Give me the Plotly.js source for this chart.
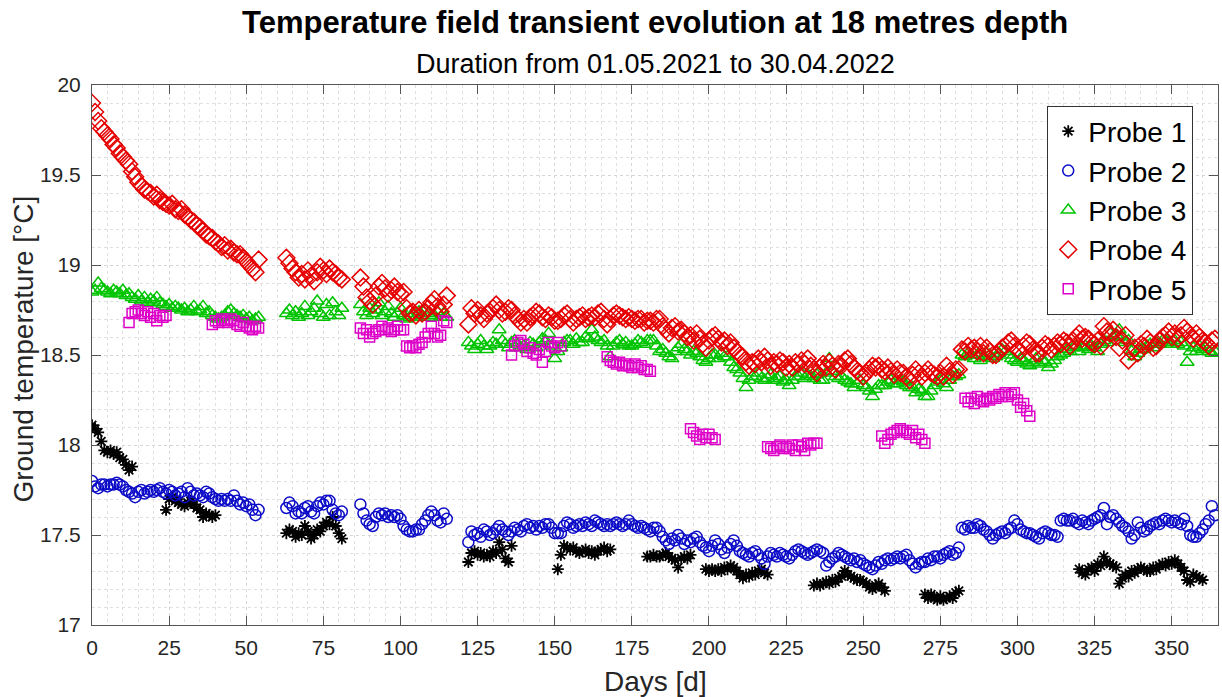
<!DOCTYPE html>
<html>
<head>
<meta charset="utf-8">
<script src="https://cdn.plot.ly/plotly-3.0.1.min.js"></script>
<style>html,body{margin:0;padding:0;background:#fff;}#chart{width:1222px;height:697px;}</style>
</head>
<body>
<div id="chart"></div>
<script>
// ---- Data (days since 01.05.2021; each segment = start day + daily values) ----
const probeNames = ["Probe 1", "Probe 2", "Probe 3", "Probe 4", "Probe 5"];

const probe1Starts = [0, 24, 63, 122, 151, 180, 199, 234, 270, 320];
const probe1Values = [
  [18.11,18.09,18.07,18.02,17.97,17.96,17.97,17.95,17.96,17.93,17.92,17.89,17.86,17.88],
  [17.64,17.70,17.71,17.69,17.68,17.67,17.66,17.68,17.69,17.67,17.65,17.64,17.60,17.62,17.61,17.60,17.61],
  [17.51,17.53,17.52,17.49,17.51,17.50,17.55,17.52,17.48,17.50,17.53,17.52,17.55,17.57,17.56,17.60,17.55,17.51,17.48],
  [17.35,17.40,17.41,17.39,17.40,17.38,17.39,17.38,17.41,17.40,17.46,17.42,17.37,17.35,17.44],
  [17.31,17.39,17.44,17.43,17.42,17.43,17.41,17.40,17.41,17.42,17.40,17.41,17.39,17.41,17.42,17.43,17.41,17.42],
  [17.38,17.38,17.39,17.38,17.38,17.39,17.40,17.38,17.37,17.36,17.32,17.37,17.38,17.37,17.39],
  [17.31,17.30,17.31,17.30,17.31,17.30,17.32,17.31,17.33,17.32,17.30,17.28,17.26,17.28,17.27,17.29,17.28,17.30,17.31,17.29,17.28],
  [17.22,17.23,17.22,17.23,17.24,17.23,17.25,17.24,17.26,17.27,17.30,17.28,17.27,17.26,17.25,17.25,17.24,17.23,17.21,17.20,17.22,17.23,17.21,17.19],
  [17.17,17.15,17.17,17.15,17.14,17.16,17.14,17.15,17.16,17.15,17.18,17.19],
  [17.31,17.29,17.28,17.31,17.32,17.30,17.34,17.33,17.38,17.35,17.34,17.33,17.32,17.23,17.26,17.28,17.27,17.30,17.29,17.31,17.32,17.31,17.30,17.30,17.32,17.31,17.33,17.34,17.33,17.35,17.34,17.36,17.34,17.32,17.30,17.25,17.24,17.28,17.27,17.26,17.25]
];

const probe2Starts = [0, 63, 87, 122];
const probe2Values = [
  [17.80,17.77,17.76,17.78,17.78,17.77,17.78,17.78,17.79,17.78,17.77,17.75,17.74,17.73,17.71,17.74,17.75,17.73,17.74,17.75,17.74,17.75,17.76,17.74,17.73,17.75,17.74,17.72,17.73,17.74,17.71,17.76,17.74,17.72,17.73,17.72,17.71,17.74,17.73,17.71,17.70,17.69,17.70,17.69,17.70,17.69,17.72,17.69,17.67,17.68,17.66,17.67,17.64,17.61,17.64],
  [17.65,17.68,17.66,17.62,17.63,17.62,17.65,17.66,17.63,17.62,17.66,17.68,17.67,17.69,17.69,17.64,17.62,17.61,17.63],
  [17.67,17.62,17.58,17.56,17.55,17.60,17.62,17.61,17.62,17.60,17.61,17.60,17.61,17.59,17.55,17.53,17.52,17.52,17.53,17.53,17.56,17.58,17.61,17.63,17.61,17.58,17.57,17.62,17.59],
  [17.46,17.52,17.50,17.51,17.49,17.53,17.52,17.50,17.51,17.53,17.55,17.53,17.52,17.50,17.52,17.54,17.53,17.52,17.55,17.56,
   17.54,17.55,17.53,17.55,17.54,17.56,17.56,17.54,17.51,17.51,17.51,17.55,17.57,17.56,17.54,17.55,17.56,17.55,17.57,17.56,
   17.55,17.58,17.57,17.56,17.55,17.56,17.55,17.56,17.57,17.56,17.55,17.56,17.58,17.56,17.55,17.54,17.55,17.54,17.53,17.52,
   17.54,17.54,17.52,17.49,17.47,17.45,17.48,17.47,17.50,17.48,17.45,17.47,17.46,17.48,17.49,17.46,17.44,17.43,17.41,17.44,
   17.47,17.45,17.42,17.40,17.43,17.45,17.47,17.44,17.41,17.40,17.39,17.38,17.40,17.41,17.39,17.37,17.34,17.38,17.40,17.39,
   17.38,17.40,17.39,17.38,17.37,17.39,17.41,17.42,17.41,17.40,17.39,17.40,17.41,17.42,17.41,17.40,17.33,17.35,17.37,17.38,
   17.40,17.39,17.38,17.37,17.36,17.37,17.35,17.36,17.34,17.33,17.32,17.31,17.33,17.35,17.34,17.36,17.37,17.36,17.37,17.38,
   17.37,17.38,17.39,17.36,17.34,17.32,17.34,17.35,17.35,17.37,17.36,17.38,17.38,17.37,17.39,17.40,17.41,17.39,17.40,17.43,
   17.54,17.53,17.55,17.54,17.54,17.56,17.55,17.53,17.52,17.50,17.48,17.50,17.51,17.52,17.51,17.53,17.54,17.58,17.56,17.53,
   17.52,17.51,17.51,17.50,17.49,17.48,17.51,17.52,17.51,17.50,17.50,17.49,17.58,17.59,17.58,17.58,17.59,17.57,17.56,17.58,
   17.57,17.56,17.58,17.59,17.60,17.61,17.65,17.56,17.60,17.61,17.59,17.57,17.55,17.54,17.52,17.48,17.50,17.57,17.54,17.52,
   17.53,17.55,17.56,17.57,17.56,17.58,17.59,17.58,17.57,17.58,17.57,17.56,17.59,17.55,17.50,17.49,17.49,17.51,17.53,17.56,
   17.58,17.66,17.61]
];

const probe3Starts = [0, 63, 87, 122];
const probe3Values = [
  [18.85,18.86,18.90,18.87,18.86,18.85,18.84,18.86,18.85,18.84,18.86,18.83,18.84,18.82,18.81,18.83,18.80,18.82,18.79,18.81,18.80,18.82,18.79,18.78,18.77,18.78,18.76,18.77,18.76,18.75,18.76,18.74,18.75,18.77,18.74,18.75,18.77,18.73,18.74,18.72,18.71,18.70,18.71,18.72,18.74,18.75,18.73,18.72,18.71,18.72,18.70,18.71,18.69,18.70,18.71],
  [18.73,18.75,18.72,18.74,18.71,18.73,18.77,18.72,18.74,18.76,18.80,18.73,18.71,18.78,18.72,18.79,18.74,18.72,18.76],
  [18.78,18.74,18.72,18.76,18.73,18.75,18.79,18.72,18.74,18.77,18.73,18.71,18.73,18.76,18.72,18.70,18.71,18.73,18.71,18.74,18.72,18.75,18.73,18.71,18.72,18.74,18.71,18.73,18.71],
  [18.57,18.55,18.53,18.56,18.58,18.55,18.53,18.55,18.57,18.56,18.64,18.58,18.56,18.54,18.57,18.58,18.56,18.54,18.55,18.53,
   18.57,18.56,18.54,18.57,18.59,18.58,18.62,18.55,18.48,18.52,18.54,18.57,18.58,18.58,18.56,18.59,18.57,18.57,18.60,18.59,
   18.64,18.60,18.58,18.57,18.58,18.55,18.49,18.55,18.57,18.58,18.56,18.57,18.55,18.55,18.56,18.58,18.57,18.56,18.58,18.58,
   18.58,18.55,18.52,18.53,18.51,18.49,18.48,18.52,18.54,18.56,18.53,18.52,18.50,18.52,18.51,18.49,18.47,18.46,18.48,18.50,
   18.50,18.48,18.51,18.49,18.49,18.46,18.43,18.42,18.40,18.37,18.32,18.36,18.38,18.38,18.40,18.37,18.36,18.37,18.39,18.36,
   18.37,18.38,18.35,18.36,18.33,18.36,18.38,18.38,18.40,18.37,18.39,18.38,18.37,18.39,18.36,18.36,18.40,18.48,18.41,18.38,
   18.37,18.38,18.36,18.35,18.34,18.32,18.34,18.36,18.33,18.32,18.30,18.27,18.31,18.33,18.33,18.33,18.35,18.36,18.34,18.34,
   18.36,18.35,18.33,18.32,18.32,18.29,18.31,18.30,18.27,18.27,18.30,18.33,18.35,18.36,18.34,18.32,18.36,18.38,18.38,18.39,
   18.50,18.49,18.51,18.50,18.48,18.50,18.47,18.49,18.51,18.50,18.48,18.49,18.51,18.53,18.52,18.50,18.48,18.47,18.46,18.48,
   18.47,18.45,18.44,18.46,18.48,18.45,18.47,18.46,18.43,18.45,18.47,18.49,18.50,18.51,18.53,18.52,18.54,18.55,18.52,18.54,
   18.55,18.53,18.55,18.54,18.52,18.56,18.58,18.57,18.62,18.60,18.61,18.64,18.60,18.57,18.58,18.52,18.49,18.51,18.53,18.53,
   18.55,18.56,18.54,18.57,18.56,18.58,18.58,18.57,18.56,18.58,18.56,18.57,18.55,18.46,18.52,18.54,18.52,18.55,18.53,18.54,
   18.52,18.51,18.52]
];

const probe4Starts = [0, 63, 87, 122];
const probe4Values = [
  [19.90,19.85,19.80,19.76,19.74,19.72,19.70,19.67,19.65,19.62,19.60,19.58,19.56,19.52,19.49,19.46,19.44,19.42,19.41,19.40,19.38,19.39,19.36,19.35,19.34,19.33,19.34,19.31,19.30,19.31,19.28,19.27,19.25,19.24,19.22,19.21,19.19,19.17,19.16,19.15,19.13,19.12,19.10,19.11,19.08,19.09,19.07,19.06,19.06,19.04,19.02,19.00,18.98,18.96,19.03],
  [19.04,19.01,18.98,18.96,18.93,18.95,18.92,18.97,18.94,18.91,18.96,18.99,18.97,18.95,18.98,18.96,18.95,18.93,18.92],
  [18.93,18.88,18.82,18.80,18.78,18.83,18.88,18.90,18.87,18.84,18.86,18.88,18.85,18.84,18.85,18.76,18.73,18.74,18.72,18.75,18.73,18.74,18.76,18.79,18.81,18.77,18.74,18.78,18.83],
  [18.67,18.76,18.73,18.75,18.72,18.70,18.73,18.74,18.76,18.78,18.75,18.73,18.74,18.76,18.75,18.72,18.70,18.68,18.70,18.68,
   18.71,18.72,18.74,18.73,18.71,18.70,18.72,18.71,18.69,18.69,18.70,18.72,18.73,18.70,18.68,18.70,18.71,18.72,18.70,18.71,
   18.72,18.71,18.73,18.74,18.70,18.67,18.70,18.72,18.73,18.72,18.71,18.70,18.71,18.70,18.69,18.70,18.70,18.68,18.69,18.69,
   18.68,18.70,18.70,18.66,18.64,18.62,18.65,18.66,18.63,18.64,18.62,18.60,18.61,18.58,18.62,18.59,18.56,18.54,18.58,18.60,
   18.61,18.59,18.57,18.58,18.55,18.57,18.54,18.52,18.50,18.49,18.46,18.44,18.46,18.45,18.48,18.46,18.49,18.47,18.44,18.46,
   18.45,18.47,18.46,18.43,18.45,18.43,18.46,18.45,18.47,18.45,18.48,18.44,18.42,18.40,18.43,18.45,18.43,18.46,18.44,18.42,
   18.45,18.44,18.47,18.48,18.45,18.43,18.41,18.40,18.38,18.40,18.42,18.44,18.43,18.44,18.42,18.41,18.43,18.41,18.39,18.42,
   18.40,18.40,18.38,18.36,18.39,18.42,18.40,18.38,18.40,18.42,18.40,18.39,18.38,18.40,18.38,18.44,18.41,18.39,18.42,18.42,
   18.53,18.52,18.55,18.53,18.54,18.52,18.55,18.51,18.54,18.52,18.50,18.50,18.52,18.54,18.55,18.57,18.58,18.55,18.53,18.52,
   18.55,18.57,18.56,18.53,18.51,18.51,18.54,18.56,18.55,18.53,18.55,18.57,18.56,18.58,18.57,18.55,18.58,18.60,18.62,18.59,
   18.60,18.59,18.57,18.56,18.58,18.55,18.66,18.63,18.62,18.64,18.60,18.54,18.58,18.61,18.47,18.52,18.54,18.51,18.56,18.55,
   18.59,18.57,18.54,18.55,18.58,18.60,18.61,18.63,18.60,18.62,18.59,18.61,18.65,18.63,18.61,18.59,18.62,18.60,18.58,18.57,
   18.55,18.58,18.59]
];

const probe5Starts = [12, 39, 87, 136, 167, 194, 219, 256, 283];
const probe5Values = [
  [18.68,18.73,18.74,18.75,18.73,18.72,18.74,18.71,18.73,18.69,18.72,18.71,18.72],
  [18.67,18.69,18.68,18.70,18.69,18.68,18.70,18.69,18.67,18.66,18.68,18.66,18.65,18.64,18.66,18.65],
  [18.65,18.62,18.64,18.60,18.62,18.63,18.64,18.66,18.64,18.65,18.63,18.64,18.66,18.64,18.64,18.55,18.54,18.55,18.54,18.56,18.57,18.60,18.62,18.66,18.62,18.60,18.61,18.69,18.68],
  [18.50,18.55,18.57,18.58,18.56,18.52,18.54,18.51,18.50,18.53,18.46,18.52,18.57,18.55,18.54,18.57,18.55],
  [18.49,18.47,18.46,18.45,18.46,18.44,18.45,18.44,18.43,18.45,18.43,18.44,18.42,18.42,18.41],
  [18.09,18.07,18.05,18.03,18.06,18.04,18.06,18.04,18.03],
  [17.99,17.98,17.97,17.99,18.00,17.98,17.99,17.98,18.00,17.97,18.00,17.99,17.97,18.01,18.00,18.01,18.01],
  [18.05,18.01,18.03,18.06,18.07,18.08,18.09,18.08,18.07,18.06,18.08,18.04,18.06,18.03,18.01],
  [18.26,18.24,18.26,18.23,18.27,18.25,18.24,18.26,18.25,18.27,18.26,18.28,18.27,18.29,18.27,18.28,18.29,18.25,18.21,18.23,18.19,18.16]
];

const xTicks = [0, 25, 50, 75, 100, 125, 150, 175, 200, 225, 250, 275, 300, 325, 350];
const yTicks = [17, 17.5, 18, 18.5, 19, 19.5, 20];

// ---- Build traces ----
function flatten(starts, values) {
  const x = [], y = [];
  starts.forEach((s, k) => {
    values[k].forEach((v, i) => { x.push(s + i); y.push(v); });
  });
  return {x, y};
}

const styles = [
  {symbol: "asterisk-open", color: "#000000", size: 10, width: 1.8},
  {symbol: "circle-open", color: "#0b0bc8", size: 11, width: 1.5},
  {symbol: "triangle-up-open", color: "#00c400", size: 12, width: 1.5},
  {symbol: "diamond-open", color: "#e60000", size: 13, width: 1.5},
  {symbol: "square-open", color: "#dd00c8", size: 10, width: 1.5}
];
const allData = [
  [probe1Starts, probe1Values], [probe2Starts, probe2Values], [probe3Starts, probe3Values],
  [probe4Starts, probe4Values], [probe5Starts, probe5Values]
];

const traces = allData.map((d, k) => {
  const p = flatten(d[0], d[1]);
  const st = styles[k];
  return {
    type: "scatter", mode: "markers", name: probeNames[k],
    x: p.x, y: p.y,
    marker: {symbol: st.symbol, size: st.size, color: st.color,
             line: {color: st.color, width: st.width}},
    hoverinfo: "x+y+name"
  };
});

const FONT = "Liberation Sans, Arial, Helvetica, sans-serif";

const layout = {
  width: 1222, height: 697,
  margin: {l: 92, r: 4, t: 85, b: 72},
  paper_bgcolor: "#ffffff", plot_bgcolor: "#ffffff",
  font: {family: FONT, color: "#262626", size: 21},
  showlegend: true,
  legend: {
    x: 0.978, y: 0.962, xanchor: "right", yanchor: "top",
    bgcolor: "#ffffff", bordercolor: "#333333", borderwidth: 1,
    font: {family: FONT, size: 28, color: "#000000"},
    itemwidth: 30, tracegroupgap: 0
  },
  xaxis: {
    range: [0, 365], tickvals: xTicks, ticktext: xTicks.map(String),
    ticks: "inside", ticklen: 9, tickcolor: "#555555", tickwidth: 1,
    showline: true, linecolor: "#555555", linewidth: 1, mirror: "ticks",
    showgrid: true, gridcolor: "#d6d6d6", griddash: "dot", gridwidth: 1,
    minor: {dtick: 5, showgrid: true, gridcolor: "#e0e0e0", griddash: "dot", gridwidth: 1, ticks: ""},
    zeroline: false, automargin: false, ticklabelstandoff: 4,
    tickfont: {family: FONT, size: 21, color: "#262626"}
  },
  yaxis: {
    range: [17, 20], tickvals: yTicks, ticktext: yTicks.map(String),
    ticks: "inside", ticklen: 9, tickcolor: "#555555", tickwidth: 1,
    showline: true, linecolor: "#555555", linewidth: 1, mirror: "ticks",
    showgrid: true, gridcolor: "#d6d6d6", griddash: "dot", gridwidth: 1,
    minor: {dtick: 0.1, showgrid: true, gridcolor: "#e0e0e0", griddash: "dot", gridwidth: 1, ticks: ""},
    zeroline: false, automargin: false, ticklabelstandoff: 6,
    tickfont: {family: FONT, size: 21, color: "#262626"}
  },
  annotations: [
    {text: "<b>Temperature field transient evolution at 18 metres depth</b>",
     xref: "paper", yref: "paper", x: 0.5, y: 1, xanchor: "center", yanchor: "middle",
     yshift: 63, showarrow: false, font: {family: FONT, size: 31, color: "#000000"}},
    {text: "Duration from 01.05.2021 to 30.04.2022",
     xref: "paper", yref: "paper", x: 0.5, y: 1, xanchor: "center", yanchor: "middle",
     yshift: 21, showarrow: false, font: {family: FONT, size: 27, color: "#000000"}},
    {text: "Days [d]",
     xref: "paper", yref: "paper", x: 0.5, y: 0, xanchor: "center", yanchor: "middle",
     yshift: -56, showarrow: false, font: {family: FONT, size: 28, color: "#262626"}},
    {text: "Ground temperature [°C]", textangle: -90,
     xref: "paper", yref: "paper", x: 0, y: 0.51, xanchor: "center", yanchor: "middle",
     xshift: -68, showarrow: false, font: {family: FONT, size: 28, color: "#262626"}}
  ]
};

Plotly.newPlot("chart", traces, layout, {displayModeBar: false});
</script>
</body>
</html>
